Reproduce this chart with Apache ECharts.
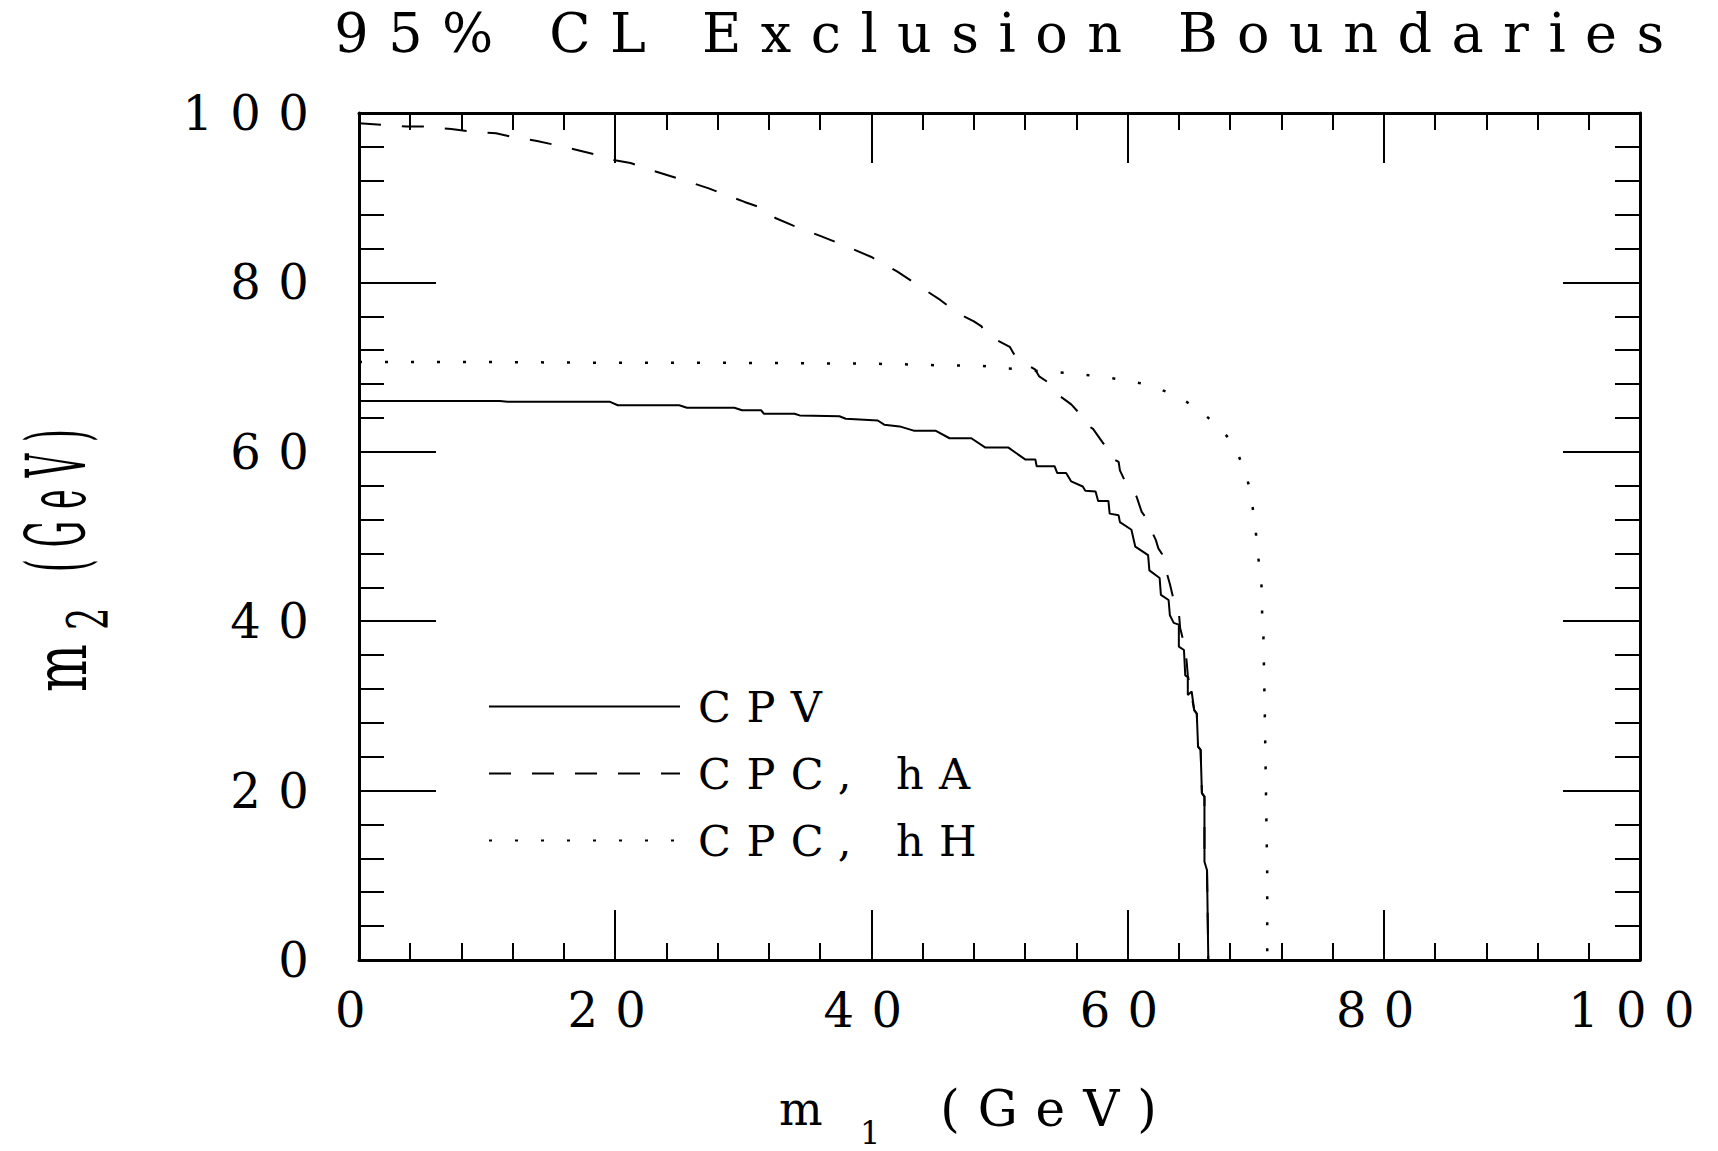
<!DOCTYPE html>
<html>
<head>
<meta charset="utf-8">
<script src="https://cdn.jsdelivr.net/npm/echarts@6/dist/echarts.min.js"></script>
<style>
html, body { margin: 0; padding: 0; background: #ffffff; }
#chart { width: 1718px; height: 1151px; }
#chart svg text { letter-spacing: 0.36em; }
</style>
</head>
<body>
<div id="chart"></div>
<script>
// ---- Data ----
const titleText = '95% CL Exclusion Boundaries';
const seriesNames = ['CPV', 'CPC, hA', 'CPC, hH'];
const yNameParts = ['m', '2', '(GeV)'];
const xRange = [0, 100];
const yRange = [0, 100];
const tickStep = 20;

const cpv = [
  [0, 66.0], [11.0, 66.0], [11.6, 65.9], [19.6, 65.9], [20.2, 65.5], [25.0, 65.5], [25.6, 65.2],
  [29.3, 65.2], [29.9, 64.9], [31.4, 64.9], [31.6, 64.5], [34.0, 64.5], [34.4, 64.3], [37.5, 64.2],
  [38.0, 63.9], [40.5, 63.7], [41.0, 63.2], [42.2, 63.0], [43.3, 62.5], [45.0, 62.5], [46.1, 61.6],
  [47.8, 61.6], [48.9, 60.5], [50.7, 60.5], [52.0, 59.1], [52.8, 59.1], [52.9, 58.3], [54.3, 58.3],
  [54.5, 57.5], [55.2, 57.5], [55.6, 56.5], [56.5, 55.9], [56.7, 55.4], [57.5, 55.3], [57.7, 54.2],
  [58.5, 54.2], [58.6, 52.7], [59.3, 52.5], [59.4, 51.7], [60.3, 50.8], [60.6, 48.8], [61.6, 47.8],
  [61.7, 46.0], [62.5, 45.1], [62.6, 43.1], [63.2, 42.5], [63.3, 40.7], [63.6, 39.8], [64.0, 39.6],
  [64.0, 37.0], [64.4, 36.6], [64.5, 33.6], [64.7, 33.4], [64.7, 31.3], [65.0, 31.7], [65.2, 29.5],
  [65.4, 29.1], [65.5, 25.2], [65.7, 24.8], [65.8, 19.7], [66.0, 19.3], [66.0, 11.6], [66.2, 10.6],
  [66.3, 0]
];

const cpcHA = [
  [0, 98.8], [3.7, 98.4], [5.4, 98.4], [7.2, 98.1], [8.9, 97.8], [10.7, 97.6], [12.2, 97.1],
  [13.9, 96.7], [15.4, 96.2], [17.1, 95.6], [18.7, 95.0], [19.7, 94.5], [21.2, 94.1], [22.7, 93.3],
  [25.7, 91.9], [27.3, 91.1], [28.7, 90.3], [30.1, 89.5], [31.6, 88.7], [32.5, 87.6], [33.9, 86.7],
  [36.0, 85.5], [38.0, 84.3], [40.0, 83.0], [42.0, 81.3], [44.0, 79.3], [45.4, 77.9], [46.8, 76.3],
  [48.0, 75.4], [48.6, 74.8], [48.9, 74.0], [49.4, 73.5], [50.8, 72.4], [51.1, 71.6], [51.6, 70.8],
  [52.8, 69.7], [53.1, 68.9], [53.7, 68.3], [54.6, 66.7], [55.6, 65.6], [56.5, 64.1], [56.8, 63.2],
  [57.3, 62.7], [58.1, 61.0], [58.5, 60.4], [58.6, 59.4], [59.3, 58.8], [59.4, 57.8], [59.9, 56.2],
  [60.4, 55.6], [60.7, 54.7], [61.1, 52.9], [61.6, 51.9], [61.7, 51.2], [62.2, 49.6], [62.4, 48.6],
  [62.7, 47.9], [63.0, 46.0], [63.3, 44.4], [63.6, 42.5], [64.0, 41.1], [64.1, 39.2], [64.4, 37.4],
  [64.6, 35.4], [64.7, 33.6], [65.2, 29.5], [65.4, 29.1], [65.5, 25.2], [65.7, 24.8], [65.8, 19.7],
  [66.0, 19.3], [66.0, 11.6], [66.2, 10.6], [66.3, 0]
];

const cpcHH = [
  [0, 70.6], [10, 70.6], [20, 70.5], [30, 70.5], [40, 70.4], [43.4, 70.3], [45.6, 70.2],
  [48.3, 70.2], [50.0, 69.9], [51.1, 69.8], [53.2, 69.5], [55.5, 69.3], [57.7, 68.9], [59.7, 68.5],
  [61.6, 67.9], [63.2, 67.0], [64.6, 65.9], [65.9, 64.5], [67.1, 63.0], [68.0, 61.4], [68.7, 59.4],
  [69.2, 57.5], [69.6, 55.3], [69.8, 53.0], [70.0, 50.8], [70.1, 48.6], [70.3, 46.4], [70.4, 45.3],
  [70.5, 43.1], [70.5, 40.7], [70.6, 38.5], [70.7, 30], [70.8, 20], [70.9, 10], [70.9, 0]
];

// ---- Styling ----
const F = "'DejaVu Serif', serif";
const BLACK = '#000000';

const xNameRich = {
  m: { fontSize: 46, lineHeight: 80, fontFamily: F, color: BLACK },
  s: { fontSize: 32, lineHeight: 20, verticalAlign: 'bottom', padding: [0, 0, 0, 35], fontFamily: F, color: BLACK },
  g: { fontSize: 50, lineHeight: 80, padding: [0, 82, 0, 99], fontFamily: F, color: BLACK }
};

function xAxisCfg(position, showLabel, showName) {
  return {
    type: 'value', position: position, min: xRange[0], max: xRange[1], interval: tickStep,
    name: showName ? '{m|m}{s|1}{g|(GeV)}' : '',
    nameLocation: 'middle', nameGap: 109,
    nameTextStyle: { rich: xNameRich },
    axisLine: { show: true, onZero: false, lineStyle: { color: BLACK, width: 3 } },
    axisTick: { show: true, inside: true, length: 50, lineStyle: { color: BLACK, width: 2 } },
    minorTick: { show: true, splitNumber: 5, length: 17, lineStyle: { color: BLACK, width: 2 } },
    splitLine: { show: false }, minorSplitLine: { show: false },
    axisLabel: { show: showLabel, margin: 26, fontSize: 48, fontFamily: F, color: BLACK }
  };
}
function yAxisCfg(position, showLabel) {
  return {
    type: 'value', position: position, min: yRange[0], max: yRange[1], interval: tickStep,
    axisLine: { show: true, onZero: false, lineStyle: { color: BLACK, width: 3 } },
    axisTick: { show: true, inside: true, length: 77, lineStyle: { color: BLACK, width: 2 } },
    minorTick: { show: true, splitNumber: 5, length: 25, lineStyle: { color: BLACK, width: 2 } },
    splitLine: { show: false }, minorSplitLine: { show: false },
    axisLabel: { show: showLabel, margin: 33, padding: [10, 0, 0, 0], fontSize: 48, fontFamily: F, color: BLACK }
  };
}

// rotated (reading bottom-to-top) y-axis title pieces
function yNamePiece(text, x, y, fontSize, sAlong, sHeight) {
  return {
    type: 'text', x: x, y: y, rotation: Math.PI / 2, scaleX: sAlong, scaleY: sHeight, silent: true,
    style: { text: text, fontFamily: F, fontSize: fontSize, fill: BLACK, align: 'left', verticalAlign: 'middle' }
  };
}

const chart = echarts.init(document.getElementById('chart'), null, { renderer: 'svg' });
chart.setOption({
  animation: false,
  backgroundColor: '#ffffff',
  title: {
    text: titleText, left: 1009, top: 6, padding: 0, textAlign: 'center',
    textStyle: { fontSize: 54, fontWeight: 'normal', fontFamily: F, color: BLACK }
  },
  grid: { left: 359, top: 113, right: 78, bottom: 191, containLabel: false, outerBoundsMode: 'none' },
  xAxis: [xAxisCfg('bottom', true, true), xAxisCfg('top', false, false)],
  yAxis: [yAxisCfg('left', true), yAxisCfg('right', false)],
  legend: {
    show: true, orient: 'vertical', left: 488, top: 685, padding: 0,
    itemWidth: 191, itemHeight: 14, itemGap: 24, selectedMode: false,
    data: seriesNames,
    itemStyle: { opacity: 0, borderWidth: 0 },
    textStyle: { fontSize: 43, lineHeight: 43, fontFamily: F, color: BLACK, padding: [0, 0, 0, 13] }
  },
  graphic: [
    yNamePiece(yNameParts[0], 60, 692, 46, 1.1, 1.6),
    yNamePiece(yNameParts[1], 88, 630, 32, 1.1, 1.74),
    yNamePiece(yNameParts[2], 57, 572, 50, 0.66, 1.65)
  ],
  series: [
    {
      name: seriesNames[1], type: 'line', data: cpcHA, showSymbol: false, symbol: 'none', z: 2,
      lineStyle: { color: BLACK, width: 2, type: [22, 21] }, itemStyle: { color: BLACK }
    },
    {
      name: seriesNames[2], type: 'line', data: cpcHH, showSymbol: false, symbol: 'none', z: 2,
      lineStyle: { color: BLACK, width: 2.5, type: [3, 23] }, itemStyle: { color: BLACK }
    },
    {
      name: seriesNames[0], type: 'line', data: cpv, showSymbol: false, symbol: 'none', z: 3,
      lineStyle: { color: BLACK, width: 2, type: 'solid' }, itemStyle: { color: BLACK }
    }
  ]
});
</script>
</body>
</html>
